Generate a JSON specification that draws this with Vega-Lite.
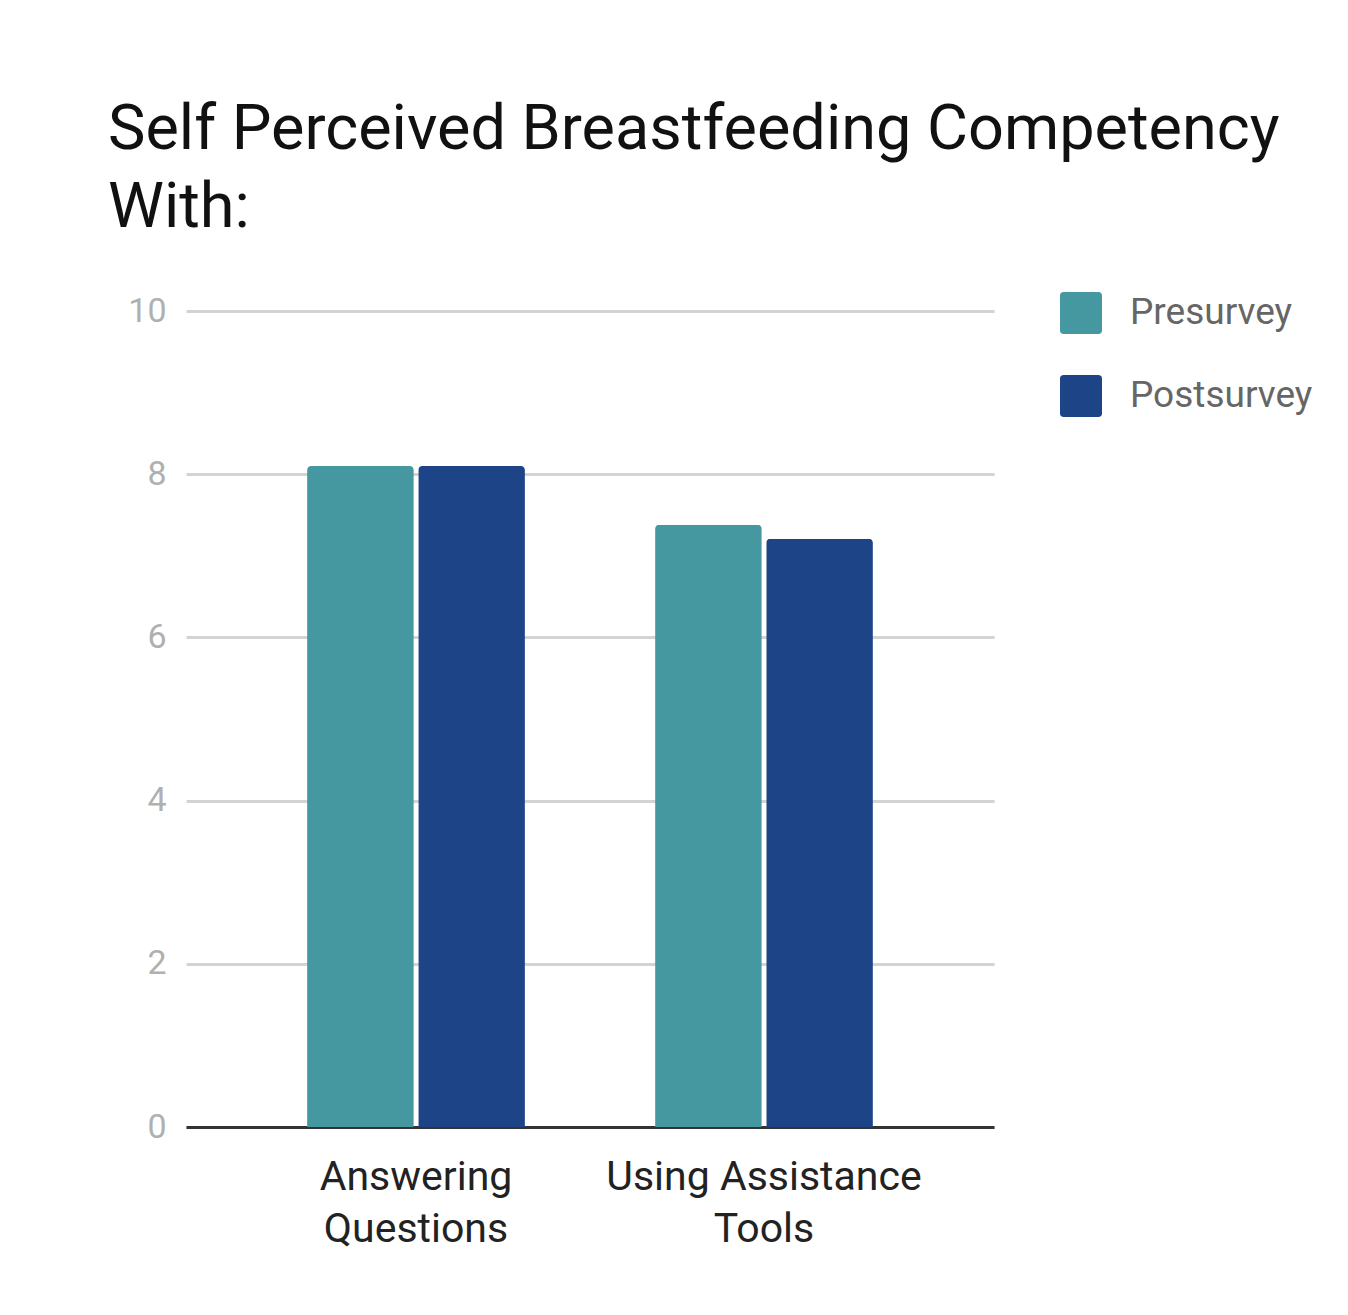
{
  "$schema": "https://vega.github.io/schema/vega-lite/v6.json",
  "width": 808,
  "height": 816,
  "autosize": {"type": "none"},
  "padding": {"left": 186, "top": 311, "right": 354, "bottom": 188},
  "background": "#ffffff",
  "title": {
    "text": ["Self Perceived Breastfeeding Competency", "With:"],
    "anchor": "start",
    "frame": "group",
    "dx": -78,
    "orient": "top",
    "baseline": "bottom",
    "offset": -11,
    "lineHeight": 78,
    "font": "Roboto",
    "fontSize": 63,
    "fontWeight": "normal",
    "color": "#111111",
    "limit": 1300
  },
  "data": {
    "values": [
      {"category": "Answering Questions", "survey": "Presurvey", "score": 8.1},
      {"category": "Answering Questions", "survey": "Postsurvey", "score": 8.1},
      {"category": "Using Assistance Tools", "survey": "Presurvey", "score": 7.38},
      {"category": "Using Assistance Tools", "survey": "Postsurvey", "score": 7.21}
    ]
  },
  "mark": {"type": "bar", "cornerRadiusTopLeft": 4, "cornerRadiusTopRight": 4},
  "encoding": {
    "x": {
      "field": "category",
      "type": "nominal",
      "sort": null,
      "scale": {"paddingInner": 0.374, "paddingOuter": 0.348},
      "axis": {
        "title": null,
        "labelAngle": 0,
        "ticks": false,
        "domain": true,
        "domainColor": "#333333",
        "domainWidth": 3,
        "labelFont": "Roboto",
        "labelFontSize": 41,
        "labelColor": "#222222",
        "labelPadding": 30,
        "labelLineHeight": 52,
        "labelBaseline": "top",
        "labelLimit": 500,
        "labelExpr": "datum.value == 'Answering Questions' ? ['Answering', 'Questions'] : ['Using Assistance', 'Tools']"
      }
    },
    "xOffset": {
      "field": "survey",
      "type": "nominal",
      "sort": ["Presurvey", "Postsurvey"],
      "scale": {"paddingInner": 0.04}
    },
    "y": {
      "field": "score",
      "type": "quantitative",
      "scale": {"domain": [0, 10], "nice": false},
      "axis": {
        "title": null,
        "values": [0, 2, 4, 6, 8, 10],
        "domain": false,
        "ticks": false,
        "grid": true,
        "gridColor": "#d3d3d3",
        "gridWidth": 3,
        "labelFont": "Roboto",
        "labelFontSize": 34,
        "labelColor": "#b0b0b0",
        "labelPadding": 20
      }
    },
    "color": {
      "field": "survey",
      "type": "nominal",
      "sort": ["Presurvey", "Postsurvey"],
      "scale": {"domain": ["Presurvey", "Postsurvey"], "range": ["#4597a0", "#1e4488"]},
      "legend": {
        "title": null,
        "orient": "none",
        "legendX": 874,
        "legendY": -19,
        "symbolType": "M -0.82,-1 L 0.82,-1 Q 1,-1 1,-0.82 L 1,0.82 Q 1,1 0.82,1 L -0.82,1 Q -1,1 -1,0.82 L -1,-0.82 Q -1,-1 -0.82,-1 Z",
        "symbolSize": 1764,
        "symbolStrokeWidth": 0,
        "symbolOpacity": 1,
        "labelFont": "Roboto",
        "labelFontSize": 37,
        "labelColor": "#666666",
        "labelOffset": 28,
        "labelLimit": 400,
        "rowPadding": 41
      }
    }
  },
  "config": {
    "view": {"stroke": null},
    "axis": {"gridCap": "butt"}
  }
}
